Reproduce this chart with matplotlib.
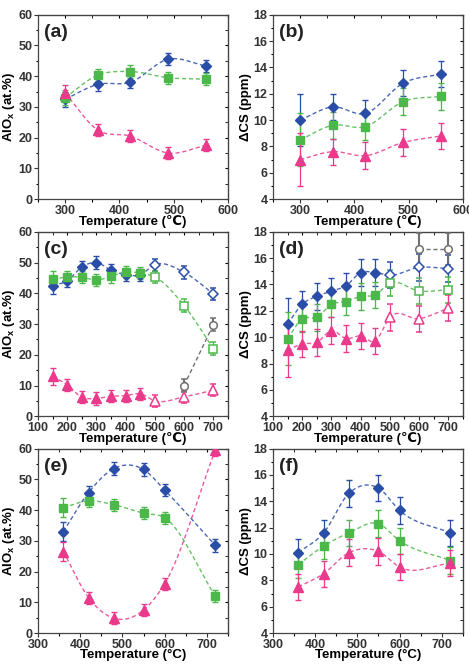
import numpy as np
import matplotlib.pyplot as plt
from matplotlib.ticker import MultipleLocator

plt.rcParams['font.family'] = ['Liberation Sans', 'DejaVu Sans']
plt.rcParams['font.weight'] = 'bold'
plt.rcParams['mathtext.fontset'] = 'custom'
plt.rcParams['mathtext.bf'] = 'Liberation Sans:bold'
plt.rcParams['mathtext.rm'] = 'Liberation Sans:bold'
plt.rcParams['mathtext.default'] = 'bf'

# -----------------------------
# Data
# -----------------------------
t_a = [300, 360, 420, 490, 560]
a_blue = [32.5, 37.3, 38.0, 45.5, 43.3]
a_green = [33.0, 40.3, 41.5, 39.5, 39.0]
a_pink = [34.5, 22.5, 20.5, 15.0, 17.5]
a_err = [2.5, 2.0, 2.0, 2.0, 2.0]

b_blue = [10.0, 11.0, 10.5, 12.8, 13.5]
b_green = [8.5, 9.6, 9.5, 11.4, 11.8]
b_pink = [7.0, 7.6, 7.3, 8.3, 8.8]
b_err = [2.0, 1.0, 1.0, 1.0, 1.0]

t_c = [150, 200, 250, 300, 350, 400, 450, 500, 600, 700]
c_blue = [42.5, 44.0, 48.5, 50.0, 47.5, 46.0, 46.0, 49.3, 46.8, 39.8]
c_green = [44.5, 45.3, 45.2, 44.3, 45.5, 47.0, 46.5, 45.3, 36.0, 22.0]
c_pink = [13.0, 10.2, 6.2, 5.8, 6.5, 6.7, 7.3, 5.0, 6.3, 8.5]
c_err = [2.8, 2.0, 2.0, 2.0, 2.0, 2.0, 2.0, 2.0, 2.0, 2.0]
t_gray = [600, 700]
c_gray = [10.0, 29.8]

d_blue = [11.0, 12.5, 13.1, 13.5, 13.9, 14.9, 14.9, 14.7, 15.3, 15.2]
d_green = [9.9, 11.4, 11.5, 12.5, 12.7, 13.1, 13.2, 14.1, 13.5, 13.6]
d_pink = [9.0, 9.5, 9.6, 10.5, 9.9, 10.1, 9.7, 11.5, 11.4, 12.2]
d_err = [2.0, 1.0, 1.0, 1.0, 1.0, 1.0, 1.0, 1.0, 1.0, 1.0]
d_gray = [16.7, 16.7]
n_filled = 7

t_e = [360, 420, 480, 550, 600, 720]
e_blue = [33.0, 45.7, 53.5, 53.2, 46.5, 28.5]
e_green = [40.8, 43.0, 41.7, 39.0, 37.5, 12.0]
e_pink = [26.5, 11.5, 4.8, 7.5, 16.0, 59.5]
e_err = [3.0, 2.0, 2.0, 2.0, 2.0, 2.0]

f_blue = [10.1, 11.6, 14.6, 15.0, 13.3, 11.6]
f_green = [9.2, 10.6, 11.6, 12.3, 11.0, 9.5]
f_pink = [7.5, 8.5, 10.1, 10.2, 9.0, 9.3]
f_err = [1.0, 1.0, 1.0, 1.0, 1.0, 1.0]

BLUE = "#2a4ea8"
GREEN = "#4cb84a"
PINK = "#ea3a8c"
GRAY = "#707070"
series_style = [(BLUE, "D", 5.5), (GREEN, "s", 5.5), (PINK, "^", 6.5)]


def smooth(x, y, n=30):
    # cubic hermite guide line through the points
    x = np.asarray(x, float)
    y = np.asarray(y, float)
    m = np.gradient(y, x)
    xs, ys = [], []
    for i in range(len(x) - 1):
        h = x[i + 1] - x[i]
        s = np.linspace(0, 1, n)
        h00 = 2 * s**3 - 3 * s**2 + 1
        h10 = s**3 - 2 * s**2 + s
        h01 = -2 * s**3 + 3 * s**2
        h11 = s**3 - s**2
        xs.append(x[i] + s * h)
        ys.append(h00 * y[i] + h10 * h * m[i] + h01 * y[i + 1] + h11 * h * m[i + 1])
    return np.concatenate(xs), np.concatenate(ys)


def draw(ax, t, series, err, n_fill=None):
    for vals, (col, mk, ms) in zip(series, series_style):
        sx, sy = smooth(t, vals)
        ax.plot(sx, sy, ls=(0, (3, 2)), color=col, lw=1.0, alpha=0.85)
        nf = len(t) if n_fill is None else n_fill
        ax.errorbar(t[:nf], vals[:nf], yerr=err[:nf], fmt=mk, color=col,
                    ms=ms, capsize=2, elinewidth=0.9, mec=col, zorder=3)
        if nf < len(t):
            ax.errorbar(t[nf:], vals[nf:], yerr=err[nf:], fmt=mk, color=col,
                        ms=ms, capsize=2, elinewidth=0.9, mfc="white",
                        mec=col, mew=1.1, zorder=3)


def style(ax, label, xlim, xstep, ylim, ystep, ylabel):
    ax.set_xlim(xlim)
    ax.set_ylim(ylim)
    ax.xaxis.set_major_locator(MultipleLocator(xstep))
    ax.xaxis.set_minor_locator(MultipleLocator(xstep / 2))
    ax.yaxis.set_major_locator(MultipleLocator(ystep))
    ax.yaxis.set_minor_locator(MultipleLocator(ystep / 2))
    ax.tick_params(which="major", direction="out", length=3, labelsize=9,
                   width=0.8, pad=1, colors="#333333")
    ax.tick_params(which="minor", direction="out", length=1.8, width=0.8)
    for sp in ax.spines.values():
        sp.set_color("#444444")
        sp.set_linewidth(0.9)
    top = ax.secondary_xaxis("top")
    top.xaxis.set_major_locator(MultipleLocator(xstep))
    top.xaxis.set_minor_locator(MultipleLocator(xstep / 2))
    top.tick_params(which="both", direction="in", labeltop=False, length=2.5)
    right = ax.secondary_yaxis("right")
    right.yaxis.set_major_locator(MultipleLocator(ystep))
    right.yaxis.set_minor_locator(MultipleLocator(ystep / 2))
    right.tick_params(which="both", direction="in", labelright=False, length=2.5)
    ax.set_ylabel(ylabel, fontsize=9.5, fontweight="bold", labelpad=1)
    xl = "Temperature (\u2103)" if label in "(a)(b)(c)(d)" else "Temperature (\u00b0C)"
    ax.set_xlabel(xl, fontsize=9.5, fontweight="bold", labelpad=-1)
    ax.text(0.03, 0.95, label, transform=ax.transAxes, fontsize=14,
            fontweight="bold", va="top", ha="left", color="#222222")


fig = plt.figure(figsize=(4.69, 6.66), dpi=100)
W, H = 0.405, 0.277
lefts = [0.081, 0.582]
bottoms = [0.701, 0.375, 0.0495]
axs = [[fig.add_axes([l, b, W, H]) for l in lefts] for b in bottoms]

alox = r"AlO$_\mathbf{x}$ (at.%)"
dcs = "\u0394CS (ppm)"

# (a)
ax = axs[0][0]
draw(ax, t_a, [a_blue, a_green, a_pink], a_err)
style(ax, "(a)", (250, 600), 100, (0, 60), 10, alox)

# (b)
ax = axs[0][1]
draw(ax, t_a, [b_blue, b_green, b_pink], b_err)
style(ax, "(b)", (250, 600), 100, (4, 18), 2, dcs)

# (c)
ax = axs[1][0]
draw(ax, t_c, [c_blue, c_green, c_pink], c_err, n_filled)
ax.plot(t_gray, c_gray, ls=(0, (3, 2)), color=GRAY, lw=1.0)
ax.errorbar(t_gray, c_gray, yerr=[2, 2], fmt="o", color=GRAY, ms=5.5,
            mfc="white", mew=1.1, capsize=2, zorder=3)
style(ax, "(c)", (100, 750), 100, (0, 60), 10, alox)

# (d)
ax = axs[1][1]
draw(ax, t_c, [d_blue, d_green, d_pink], d_err, n_filled)
ax.plot(t_gray, d_gray, ls=(0, (3, 2)), color=GRAY, lw=1.0)
ax.errorbar(t_gray, d_gray, yerr=[1.2, 1.2], fmt="o", color=GRAY, ms=5.5,
            mfc="white", mew=1.1, capsize=2, zorder=3)
style(ax, "(d)", (100, 750), 100, (4, 18), 2, dcs)

# (e)
ax = axs[2][0]
draw(ax, t_e, [e_blue, e_green, e_pink], e_err)
style(ax, "(e)", (300, 750), 100, (0, 60), 10, alox)

# (f)
ax = axs[2][1]
draw(ax, t_e, [f_blue, f_green, f_pink], f_err)
style(ax, "(f)", (300, 750), 100, (4, 18), 2, dcs)

plt.savefig("out.png", dpi=100)
plt.close()
